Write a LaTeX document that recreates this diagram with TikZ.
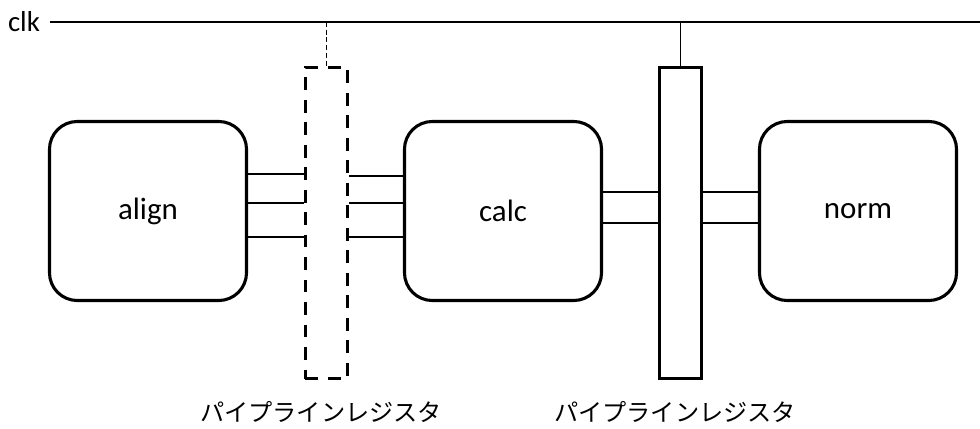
\documentclass[tikz,border=0pt]{standalone}
\usepackage{fontspec}
\setmainfont{Carlito}
\newfontfamily\jpfont{Noto Sans CJK JP}
\usetikzlibrary{positioning}

\begin{document}
\begin{tikzpicture}[x=0.025cm,y=-0.025cm,
  block/.style={draw,rounded corners=19.8pt,line width=2.2pt,
    minimum width=4.925cm,minimum height=4.475cm,
    font=\fontsize{22}{26}\selectfont},
  reg/.style={draw,line width=2.2pt,minimum width=1.05cm,
    minimum height=7.775cm,inner sep=0pt},
  wire/.style={line width=0.9pt},
  label/.style={font=\jpfont\fontsize{17.2}{20}\selectfont}]
\useasboundingbox (0,0) rectangle (980,428);
% clock line
\node[font=\fontsize{20.5}{24}\selectfont] (clk) at (24,22) {clk};
\coordinate (clkend) at (980,22);
\draw[wire,shorten <=3.5pt] (clk.east) -- (clkend);
% stages
\node[block] (align) at (148,211) {align};
\node[block] (calc)  at (503,211) {calc};
\node[block] (norm)  at (858,211) {norm};
% pipeline registers
\node[reg,dash pattern=on 9pt off 7pt] (reg1) at (326.5,223) {};
\node[reg] (reg2) at (680.5,223) {};
\draw[wire,dash pattern=on 3.5pt off 2pt] (reg1.north |- clkend) -- (reg1.north);
\draw[wire] (reg2.north |- clkend) -- (reg2.north);
\node[label] (lbl1) at (321,412) {パイプラインレジスタ};
\node[label] (lbl2) at (675,412) {パイプラインレジスタ};
% data paths
\foreach \y in {174,203,237}
  \draw[wire] (align.east |- 0,\y) -- (reg1.west |- 0,\y);
\foreach \y in {176,203,237}
  \draw[wire] (reg1.east |- 0,\y) -- (calc.west |- 0,\y);
\foreach \y in {192,223}{
  \draw[wire] (calc.east |- 0,\y) -- (reg2.west |- 0,\y);
  \draw[wire] (reg2.east |- 0,\y) -- (norm.west |- 0,\y);
}
\end{tikzpicture}
\end{document}
